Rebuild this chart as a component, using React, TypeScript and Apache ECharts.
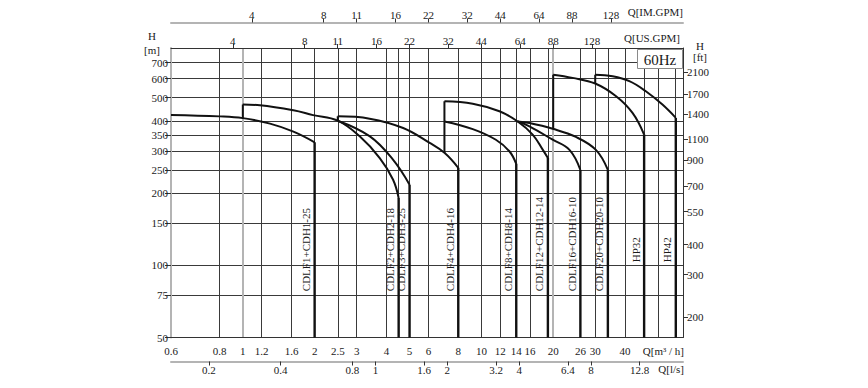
import React, { useEffect, useRef } from 'react';
import * as echarts from 'echarts';

const L = Math.log10;

// ---- axis ranges (flow in m3/h, head in m) ----
const Q_MIN = 0.5;
const Q_MAX = 70;
const H_MIN = 50;
const H_MAX = 806;

// unit conversions from m3/h and m
const TO_LS = 1 / 3.6;
const TO_USGPM = 4.40287;
const TO_IMGPM = 3.66615;
const TO_FT = 3.28084;

// ---- tick labels ----
const m3hTickPos = [0.5, 0.8, 1, 1.2, 1.6, 2, 2.5, 3, 4, 5, 6, 8, 10, 12, 14, 16, 20, 26, 30, 40];
const m3hTickLabels = ['0.6', '0.8', '1', '1.2', '1.6', '2', '2.5', '3', '4', '5', '6', '8', '10', '12', '14', '16', '20', '26', '30', '40'];
const qGridDark = [0.8, 1.2, 1.6, 2, 2.5, 3, 4, 4.5, 5, 6, 8, 10, 12, 14, 16, 19, 26, 30, 34, 40, 48, 55, 65];
const qGridGray = [1, 20];
const lsTicks = [0.2, 0.4, 0.8, 1, 1.6, 2, 3.2, 4, 6.4, 8, 12.8];
const usGpmTicks = [4, 8, 11, 16, 22, 32, 44, 64, 88, 128];
const imGpmTicks = [4, 8, 11, 16, 22, 32, 44, 64, 88, 128];
const hMTicks = [50, 75, 100, 150, 200, 250, 300, 350, 400, 500, 600, 700];
const hFtTicks = [200, 300, 400, 550, 700, 900, 1100, 1400, 1700, 2100];

// ---- pump curves: flow Q [m3/h], head H [m]; stepFrom = head the curve rises from at its first flow ----
const cdlf1Q = [0.5, 0.8, 1, 1.3, 1.63, 2];
const cdlf1H = [424, 418, 411, 390, 361, 326];

const cdlf2Q = [1, 1.18, 1.63, 1.97, 2.5, 3.09, 3.75, 4.26, 4.5];
const cdlf2H = [468, 465, 443, 423, 401, 345, 280, 228, 191];

const cdlf3Q = [2.5, 3.41, 4.26, 5];
const cdlf3H = [401, 345, 276, 217];

const cdlf4Q = [2.5, 3.4, 4.7, 6.07, 7.02, 8];
const cdlf4H = [418, 409, 374, 324, 294, 255];

const cdlf8Q = [7, 9.2, 11.5, 13.1, 14];
const cdlf8H = [398, 370, 334, 299, 265];

const cdlf12Q = [7, 9.2, 11.9, 14.2, 16.4, 18.1, 19];
const cdlf12H = [483, 472, 439, 398, 351, 303, 280];

const cdlf16Q = [14.2, 15.9, 19.9, 23.4, 26];
const cdlf16H = [398, 380, 334, 303, 250];

const cdlf20Q = [14.2, 15.9, 19.9, 24.9, 30.2, 33.9];
const cdlf20H = [398, 392, 371, 343, 303, 250];

const hp32Q = [20, 24.1, 30, 36.7, 43, 48.1];
const hp32H = [624, 605, 573, 507, 432, 351];

const hp42Q = [30, 35.5, 41.7, 48.9, 57.4, 65.3];
const hp42H = [624, 614, 586, 532, 468, 412];

const models = [
  { name: 'CDLF1+CDH1-25', q: cdlf1Q, h: cdlf1H, stepFrom: null as number | null },
  { name: 'CDLF2+CDH2-18', q: cdlf2Q, h: cdlf2H, stepFrom: 411 },
  { name: 'CDLF3+CDH3-25', q: cdlf3Q, h: cdlf3H, stepFrom: null },
  { name: 'CDLF4+CDH4-16', q: cdlf4Q, h: cdlf4H, stepFrom: 401 },
  { name: 'CDLF8+CDH8-14', q: cdlf8Q, h: cdlf8H, stepFrom: 294 },
  { name: 'CDLF12+CDH12-14', q: cdlf12Q, h: cdlf12H, stepFrom: 398 },
  { name: 'CDLF16+CDH16-10', q: cdlf16Q, h: cdlf16H, stepFrom: null },
  { name: 'CDLF20+CDH20-10', q: cdlf20Q, h: cdlf20H, stepFrom: null },
  { name: 'HP32', q: hp32Q, h: hp32H, stepFrom: 371 },
  { name: 'HP42', q: hp42Q, h: hp42H, stepFrom: 573 },
];

const FONT = '"Liberation Serif", "DejaVu Serif", serif';
const TXT = '#1a1a1a';
const GRID_DARK = '#3a3a3a';
const GRID_GRAY = '#b4b4b4';
const CURVE = '#111';

const fmtNum = (v: number) => String(Number(Math.pow(10, v).toPrecision(4)));
const labelStyle = { fontFamily: FONT, fontSize: 11, color: TXT };

function buildOption() {
  const series: any[] = [];
  models.forEach((m) => {
    const n = m.q.length;
    series.push({
      type: 'line',
      xAxisIndex: 0,
      yAxisIndex: 0,
      data: m.q.map((q, i) => [L(q), L(m.h[i])]),
      smooth: 0.4,
      symbol: 'none',
      silent: true,
      lineStyle: { color: CURVE, width: 2 },
      z: 5,
    });
    series.push({
      type: 'line',
      xAxisIndex: 0,
      yAxisIndex: 0,
      data: [
        [L(m.q[n - 1]), L(m.h[n - 1])],
        [L(m.q[n - 1]), L(H_MIN)],
      ],
      symbol: 'none',
      silent: true,
      lineStyle: { color: CURVE, width: 2.4 },
      z: 5,
    });
    if (m.stepFrom != null) {
      series.push({
        type: 'line',
        xAxisIndex: 0,
        yAxisIndex: 0,
        data: [
          [L(m.q[0]), L(m.stepFrom)],
          [L(m.q[0]), L(m.h[0])],
        ],
        symbol: 'none',
        silent: true,
        lineStyle: { color: CURVE, width: 2 },
        z: 5,
      });
    }
  });

  const m3hPos = m3hTickPos.map(L);
  return {
    animation: false,
    grid: { left: 171, top: 48, width: 512, height: 289.5, containLabel: false },
    xAxis: [
      {
        type: 'value',
        position: 'bottom',
        min: L(Q_MIN),
        max: L(Q_MAX),
        axisLine: { show: true, onZero: false, lineStyle: { color: '#333', width: 1 } },
        axisTick: { show: false, customValues: qGridDark.map(L) },
        axisLabel: {
          ...labelStyle,
          margin: 8,
          customValues: m3hPos,
          formatter: (v: number) => {
            const i = m3hPos.findIndex((p) => Math.abs(p - v) < 1e-6);
            return i >= 0 ? m3hTickLabels[i] : '';
          },
        },
        splitLine: { show: true, lineStyle: { color: GRID_DARK, width: 1 } },
      },
      {
        type: 'value',
        position: 'bottom',
        offset: 24,
        min: L(Q_MIN * TO_LS),
        max: L(Q_MAX * TO_LS),
        axisLine: { show: true, onZero: false, lineStyle: { color: GRID_GRAY, width: 2 } },
        axisTick: { show: true, length: 4, customValues: lsTicks.map(L), lineStyle: { color: '#333' } },
        axisLabel: { ...labelStyle, margin: 3, customValues: lsTicks.map(L), formatter: fmtNum },
        splitLine: { show: false },
      },
      {
        type: 'value',
        position: 'top',
        min: L(Q_MIN * TO_USGPM),
        max: L(Q_MAX * TO_USGPM),
        axisLine: { show: true, onZero: false, lineStyle: { color: '#333', width: 1 } },
        axisTick: { show: true, length: 4, customValues: usGpmTicks.map(L), lineStyle: { color: '#333' } },
        axisLabel: { ...labelStyle, margin: 2, customValues: usGpmTicks.map(L), formatter: fmtNum },
        splitLine: { show: false },
      },
      {
        type: 'value',
        position: 'top',
        offset: 25.5,
        min: L(Q_MIN * TO_IMGPM),
        max: L(Q_MAX * TO_IMGPM),
        axisLine: { show: true, onZero: false, lineStyle: { color: GRID_GRAY, width: 2 } },
        axisTick: { show: true, length: 4, customValues: imGpmTicks.map(L), lineStyle: { color: '#333' } },
        axisLabel: { ...labelStyle, margin: 2, customValues: imGpmTicks.map(L), formatter: fmtNum },
        splitLine: { show: false },
      },
      {
        type: 'value',
        position: 'bottom',
        min: L(Q_MIN),
        max: L(Q_MAX),
        axisLine: { show: false, onZero: false },
        axisTick: { show: false, customValues: qGridGray.map(L) },
        axisLabel: { show: false },
        splitLine: { show: true, lineStyle: { color: GRID_GRAY, width: 2 } },
      },
    ],
    yAxis: [
      {
        type: 'value',
        position: 'left',
        min: L(H_MIN),
        max: L(H_MAX),
        axisLine: { show: true, onZero: false, lineStyle: { color: GRID_GRAY, width: 2 } },
        axisTick: { show: true, length: 6, customValues: hMTicks.map(L), lineStyle: { color: '#333' } },
        axisLabel: { ...labelStyle, margin: 3, customValues: hMTicks.map(L), formatter: (v: number) => String(Math.round(Math.pow(10, v))) },
        splitLine: { show: true, lineStyle: { color: GRID_DARK, width: 1 } },
      },
      {
        type: 'value',
        position: 'right',
        min: L(H_MIN * TO_FT),
        max: L(H_MAX * TO_FT),
        axisLine: { show: true, onZero: false, lineStyle: { color: '#333', width: 1 } },
        axisTick: { show: true, length: 5, customValues: hFtTicks.map(L), lineStyle: { color: '#333' } },
        axisLabel: { ...labelStyle, margin: 4, customValues: hFtTicks.map(L), formatter: (v: number) => String(Math.round(Math.pow(10, v))) },
        splitLine: { show: false },
      },
    ],
    series,
  };
}

function txt(text: string, x: number, y: number, align: string, extra: any = {}) {
  return {
    type: 'text',
    x,
    y,
    silent: true,
    z: 20,
    style: { text, fill: TXT, font: `11px ${FONT}`, align, verticalAlign: 'middle', ...extra },
  };
}

export default function App() {
  const ref = useRef<HTMLDivElement>(null);
  useEffect(() => {
    document.body.style.margin = '0';
    const chart = echarts.init(ref.current!, null, { renderer: 'svg' });
    chart.setOption(buildOption());

    const graphics: any[] = [];
    models.forEach((m) => {
      const n = m.q.length;
      const isHP = m.name.startsWith('HP');
      const p = chart.convertToPixel({ xAxisIndex: 0, yAxisIndex: 0 }, [L(m.q[n - 1]), L(isHP ? 103 : 78)]) as number[];
      graphics.push({
        type: 'text',
        x: p[0] - 3,
        y: p[1],
        rotation: Math.PI / 2,
        silent: true,
        z: 20,
        style: { text: m.name, fill: TXT, font: `11px ${FONT}`, align: 'left', verticalAlign: 'bottom' },
      });
    });
    graphics.push(txt('Q[IM.GPM]', 683, 12, 'right'));
    graphics.push(txt('Q[US.GPM]', 680, 37.5, 'right'));
    graphics.push(txt('Q[m³ / h]', 684, 350.5, 'right'));
    graphics.push(txt('Q[l/s]', 684, 369, 'right'));
    graphics.push(txt('H', 152, 36, 'center'));
    graphics.push(txt('[m]', 152, 50, 'center'));
    graphics.push(txt('H', 700, 46, 'center'));
    graphics.push(txt('[ft]', 700, 57, 'center'));
    graphics.push({
      type: 'rect',
      shape: { x: 637.5, y: 49.5, width: 45, height: 19 },
      silent: true,
      z: 19,
      style: { fill: '#fff', stroke: '#8a8a8a', lineWidth: 1 },
    });
    graphics.push(txt('60Hz', 660, 59.5, 'center', { font: `15px ${FONT}` }));
    chart.setOption({ graphic: graphics });

    return () => chart.dispose();
  }, []);
  return <div ref={ref} style={{ width: 868, height: 388 }} />;
}
